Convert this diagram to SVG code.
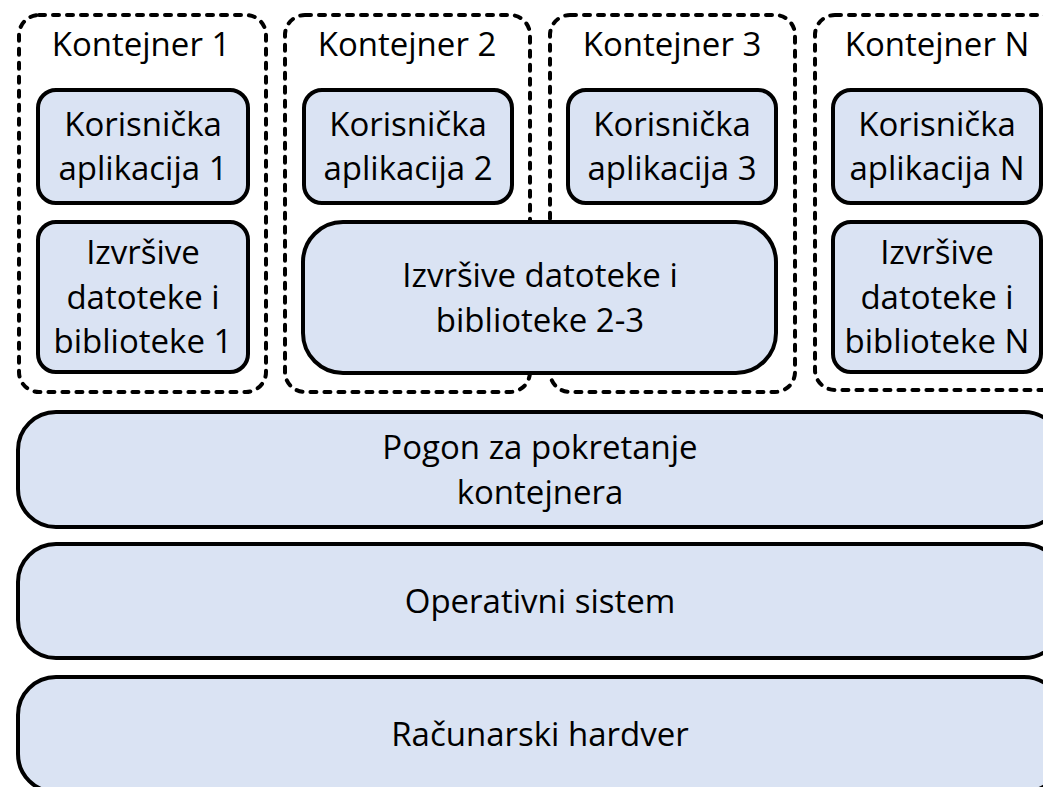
<svg xmlns="http://www.w3.org/2000/svg" width="1043" height="787" viewBox="0 0 1043 787">
  <style>
    .cont { fill: none; stroke: #000; stroke-width: 4; stroke-dasharray: 6 8; stroke-linecap: round; }
    .box { fill: #DAE3F3; stroke: #000; stroke-width: 4; }
    .t { font-family: "Open Sans", Lato, "Liberation Sans", sans-serif; font-size: 33px; fill: #000; text-anchor: middle; }
  </style>
  <rect width="1043" height="787" fill="#fff"/>

  <!-- container outlines -->
  <g id="kontejner-1">
    <rect class="cont" x="19" y="15" width="247" height="377" rx="20"/>
    <text class="t" x="141" y="56">Kontejner 1</text>
  </g>
  <g id="kontejner-2">
    <rect class="cont" x="285" y="15" width="245" height="377" rx="20"/>
    <text class="t" x="407" y="56">Kontejner 2</text>
  </g>
  <g id="kontejner-3">
    <rect class="cont" x="550" y="15" width="245" height="377" rx="20"/>
    <text class="t" x="672" y="56">Kontejner 3</text>
  </g>
  <g id="kontejner-n">
    <rect class="cont" x="815" y="15" width="247" height="375" rx="20"/>
    <text class="t" x="937" y="56">Kontejner N</text>
  </g>

  <!-- user applications -->
  <g id="app-1">
    <rect class="box" x="38" y="90" width="210" height="113" rx="18"/>
    <text class="t" x="143" y="136">Korisnička</text>
    <text class="t" x="143" y="180">aplikacija 1</text>
  </g>
  <g id="app-2">
    <rect class="box" x="304" y="90" width="208" height="113" rx="18"/>
    <text class="t" x="408" y="136">Korisnička</text>
    <text class="t" x="408" y="180">aplikacija 2</text>
  </g>
  <g id="app-3">
    <rect class="box" x="568" y="90" width="208" height="113" rx="18"/>
    <text class="t" x="672" y="136">Korisnička</text>
    <text class="t" x="672" y="180">aplikacija 3</text>
  </g>
  <g id="app-n">
    <rect class="box" x="833" y="90" width="208" height="113" rx="18"/>
    <text class="t" x="937" y="136">Korisnička</text>
    <text class="t" x="937" y="180">aplikacija N</text>
  </g>

  <!-- binaries and libraries -->
  <g id="lib-1">
    <rect class="box" x="38" y="222" width="210" height="150" rx="18"/>
    <text class="t" x="143" y="264">Izvršive</text>
    <text class="t" x="143" y="309">datoteke i</text>
    <text class="t" x="143" y="353">biblioteke 1</text>
  </g>
  <g id="lib-2-3">
    <rect class="box" x="303" y="222" width="473" height="151" rx="40"/>
    <text class="t" x="540" y="287">Izvršive datoteke i</text>
    <text class="t" x="540" y="332">biblioteke 2-3</text>
  </g>
  <g id="lib-n">
    <rect class="box" x="833" y="222" width="208" height="150" rx="18"/>
    <text class="t" x="937" y="264">Izvršive</text>
    <text class="t" x="937" y="309">datoteke i</text>
    <text class="t" x="937" y="353">biblioteke N</text>
  </g>

  <!-- shared layers -->
  <g id="runtime">
    <rect class="box" x="18" y="412" width="1044" height="115" rx="38"/>
    <text class="t" x="540" y="459">Pogon za pokretanje</text>
    <text class="t" x="540" y="504">kontejnera</text>
  </g>
  <g id="os">
    <rect class="box" x="18" y="544" width="1044" height="114" rx="38"/>
    <text class="t" x="540" y="613">Operativni sistem</text>
  </g>
  <g id="hardware">
    <rect class="box" x="18" y="677" width="1044" height="115" rx="38"/>
    <text class="t" x="540" y="746">Računarski hardver</text>
  </g>

  <g id="connectors"/>
</svg>
